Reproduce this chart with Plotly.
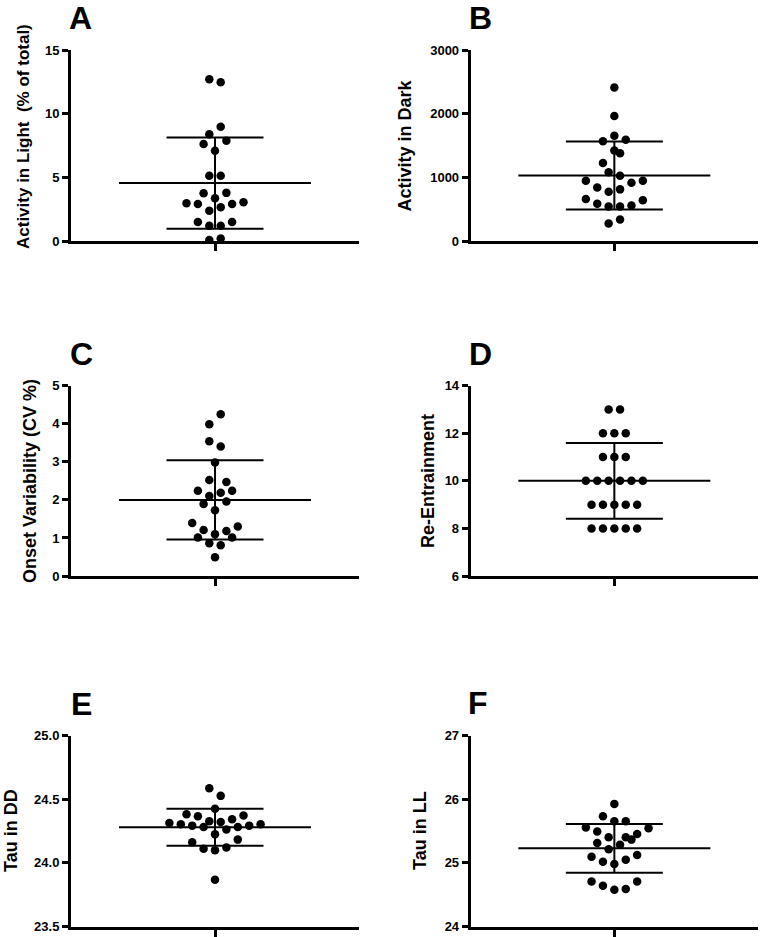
import plotly.graph_objects as go

W, H = 760, 937

# ---------------- data ----------------
panel_labels = ["A", "B", "C", "D", "E", "F"]
y_titles = ["Activity in Light  (% of total)", "Activity in Dark",
            "Onset Variability (CV %)", "Re-Entrainment",
            "Tau in DD", "Tau in LL"]

a_values = [12.7, 12.47, 8.98, 8.38, 7.88, 7.62, 7.09, 5.13, 5.13, 3.75, 3.78, 3.35,
            2.96, 2.9, 2.9, 3.05, 2.38, 2.65, 1.49, 1.2, 1.2, 1.49, 0.08, 0.2]
a_slots = [-0.5, 0.5, 0.5, -0.5, 1, -1, 0, -0.5, 0.5, -1, 1, 0,
           -2.5, -1.5, 1.5, 2.5, -0.5, 0.5, -1.5, -0.5, 0.5, 1.5, -0.5, 0.5]

b_values = [2411, 1963, 1653, 1568, 1589, 1421, 1379, 1226, 1079, 1026, 947, 947,
            842, 916, 774, 811, 658, 642, 584, 542, 542, 558, 274, 337]
b_slots = [0, 0, 0, -1, 1, 0, 0.5, -1, -0.5, 0.5, -2.5, 2.5,
           -1.5, 1.5, -0.5, 0.5, -2.5, 2.5, -1.5, -0.5, 0.5, 1.5, -0.5, 0.5]

c_values = [4.25, 3.99, 3.54, 3.40, 2.98, 2.52, 2.47, 2.24, 2.19, 2.24, 2.10, 1.89,
            1.96, 1.73, 1.39, 1.30, 1.21, 1.18, 1.10, 1.01, 1.01, 0.86, 0.81, 0.49]
c_slots = [0.5, -0.5, -0.5, 0.5, 0, -0.5, 1, -1.5, 0.5, 1.5, -0.5, -1,
           1, 0, -2, 2, -1, 1, 0, -1.5, 1.5, -0.5, 0.5, 0]

d_values = [13, 13, 12, 12, 12, 11, 11, 11, 10, 10, 10, 10, 10, 10,
            9, 9, 9, 9, 9, 8, 8, 8, 8, 8]
d_slots = [-0.5, 0.5, -1, 0, 1, -1, 0, 1, -2.5, -1.5, -0.5, 0.5, 1.5, 2.5,
           -2, -1, 0, 1, 2, -2, -1, 0, 1, 2]

e_values = [24.587, 24.527, 24.425, 24.383, 24.367, 24.343, 24.372,
            24.314, 24.304, 24.293, 24.283, 24.327, 24.322, 24.262, 24.283, 24.293, 24.304,
            24.225, 24.162, 24.183, 24.112, 24.099, 24.122, 23.868]
e_slots = [-0.5, 0.5, 0, -2.5, -1.5, 1.5, 2.5,
           -4, -3, -2, -1, -0.5, 0.5, 1, 2, 3, 4,
           0, -2, 2, -1, 0, 1, 0]

f_values = [25.928, 25.734, 25.655, 25.655, 25.555, 25.545, 25.492, 25.455,
            25.403, 25.403, 25.366, 25.313, 25.287, 25.214, 25.098, 25.124,
            25.019, 25.051, 24.982, 24.709, 24.709, 24.64, 24.588, 24.578]
f_slots = [0, -1, 0, 1, -2.5, 3, -1.5, 2, -0.5, 1, 1.5, -1.5, 0.5, -0.5, -2, 2,
           -1, 1, 0, -2, 2, -1, 1, 0]

means = [4.55, 1029, 2.0, 10.0, 24.28, 25.23]
sds = [3.58, 534, 1.04, 1.59, 0.146, 0.383]

y_ranges = [[0, 15], [0, 3000], [0, 5], [6, 14], [23.5, 25.0], [24, 27]]
y_ticks = [[0, 5, 10, 15], [0, 1000, 2000, 3000], [0, 1, 2, 3, 4, 5],
           [6, 8, 10, 12, 14], [23.5, 24.0, 24.5, 25.0], [24, 25, 26, 27]]
y_tick_text = [["0", "5", "10", "15"], ["0", "1000", "2000", "3000"],
               ["0", "1", "2", "3", "4", "5"], ["6", "8", "10", "12", "14"],
               ["23.5", "24.0", "24.5", "25.0"], ["24", "25", "26", "27"]]

values = [a_values, b_values, c_values, d_values, e_values, f_values]
slots = [a_slots, b_slots, c_slots, d_slots, e_slots, f_slots]

# ---------------- layout geometry (pixels) ----------------
col_x = [(71, 359), (470.7, 758)]
row_y = [(50, 241), (385.7, 576), (735.7, 926.5)]
DOT_STEP = 11.4
MEAN_HALF = 96
SD_HALF = 48.5
letter_pos = [(80, 18), (480, 18), (81, 354), (480, 354), (81, 704), (478, 703)]
title_x = [23, 404, 30, 428, 11, 420]
title_y = [137, 145.5, 481, 481, 831, 831]
title_size = [17, 18, 18, 18, 18, 18]

FONT = "Liberation Sans, Arial, sans-serif"

fig = go.Figure()
layout = dict(template="none", width=W, height=H, margin=dict(l=0, r=0, t=0, b=0, pad=0),
              paper_bgcolor="white", plot_bgcolor="white", showlegend=False,
              annotations=[])

for i in range(6):
    r, c = divmod(i, 2)
    x0, x1 = col_x[c]
    yt, yb = row_y[r]
    xa = "xaxis" if i == 0 else f"xaxis{i+1}"
    ya = "yaxis" if i == 0 else f"yaxis{i+1}"
    xr = "x" if i == 0 else f"x{i+1}"
    yr = "y" if i == 0 else f"y{i+1}"
    half = (x1 - x0) / 2

    layout[xa] = dict(domain=[x0 / W, x1 / W], range=[-half, half], anchor=yr,
                      automargin=False, fixedrange=True,
                      showline=True, linecolor="black", linewidth=3,
                      showgrid=False, zeroline=False,
                      tickmode="array", tickvals=[0], ticktext=[""],
                      ticks="outside", ticklen=7, tickwidth=2.5, tickcolor="black")
    layout[ya] = dict(domain=[1 - yb / H, 1 - yt / H], range=y_ranges[i], anchor=xr,
                      automargin=False, fixedrange=True,
                      showline=True, linecolor="black", linewidth=3,
                      showgrid=False, zeroline=False,
                      tickmode="array", tickvals=y_ticks[i], ticktext=y_tick_text[i],
                      ticks="outside", ticklen=6, tickwidth=2.5, tickcolor="black",
                      tickfont=dict(family=FONT, size=13, color="black", weight="bold"))

    m, s = means[i], sds[i]
    line = dict(color="black", width=2)
    fig.add_trace(go.Scatter(x=[-MEAN_HALF, MEAN_HALF], y=[m, m], mode="lines",
                             line=line, xaxis=xr, yaxis=yr, hoverinfo="skip"))
    for v in (m - s, m + s):
        fig.add_trace(go.Scatter(x=[-SD_HALF, SD_HALF], y=[v, v], mode="lines",
                                 line=line, xaxis=xr, yaxis=yr, hoverinfo="skip"))
    fig.add_trace(go.Scatter(x=[0, 0], y=[m - s, m + s], mode="lines",
                             line=line, xaxis=xr, yaxis=yr, hoverinfo="skip"))
    fig.add_trace(go.Scatter(x=[k * DOT_STEP for k in slots[i]], y=values[i],
                             mode="markers", marker=dict(color="black", size=8.5),
                             xaxis=xr, yaxis=yr))

    lx, ly = letter_pos[i]
    layout["annotations"].append(dict(
        text=f"<b>{panel_labels[i]}</b>", x=lx / W, y=1 - ly / H, xref="paper", yref="paper",
        xanchor="center", yanchor="middle", showarrow=False,
        font=dict(family=FONT, size=32, color="black")))
    layout["annotations"].append(dict(
        text=f"<b>{y_titles[i]}</b>", x=title_x[i] / W, y=1 - title_y[i] / H,
        xref="paper", yref="paper", xanchor="center", yanchor="middle",
        showarrow=False, textangle=-90,
        font=dict(family=FONT, size=title_size[i], color="black")))

fig.update_layout(**layout)
fig.write_html("out.html", config={"displayModeBar": False},
               post_script="document.body.style.margin='0';document.body.style.overflow='hidden';")
